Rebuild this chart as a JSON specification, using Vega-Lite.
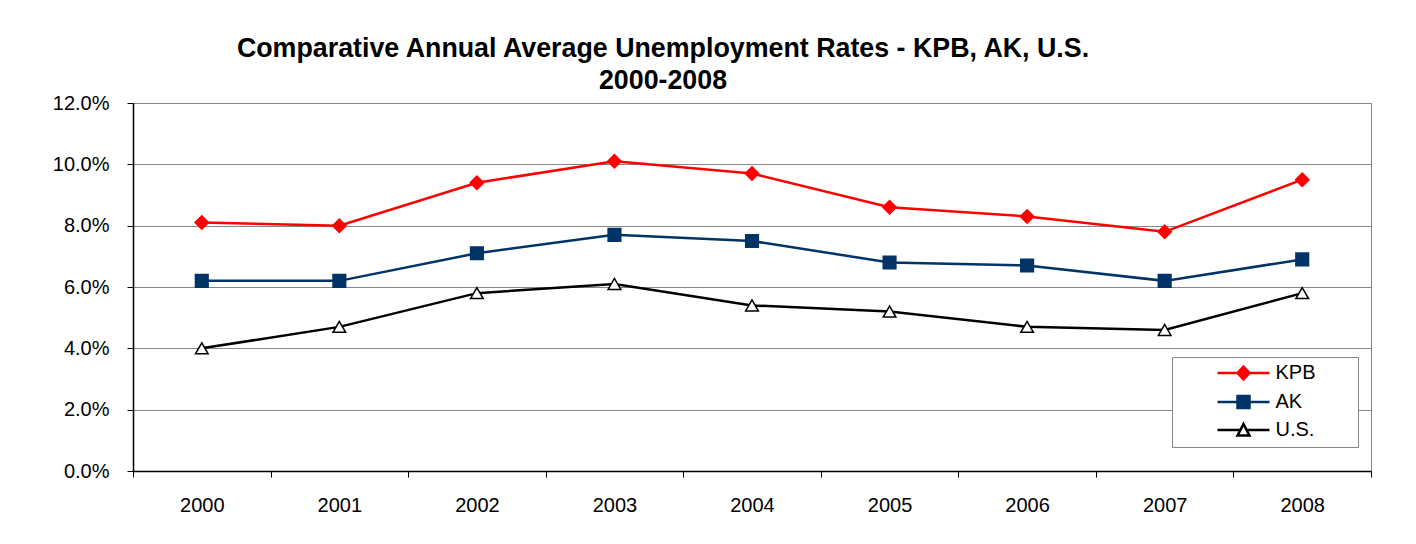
{
  "$schema": "https://vega.github.io/schema/vega-lite/v6.json",
  "width": 1238,
  "height": 368,
  "autosize": {"type": "none"},
  "padding": {"left": 133, "top": 103, "right": 45, "bottom": 73},
  "background": "white",
  "config": {
    "font": "Liberation Sans",
    "view": {"stroke": "#868686", "strokeWidth": 1}
  },
  "title": {
    "text": ["Comparative Annual Average Unemployment Rates - KPB, AK, U.S.", "2000-2008"],
    "font": "Liberation Sans",
    "fontSize": 26.8,
    "fontWeight": "bold",
    "color": "#000000",
    "anchor": "middle",
    "dx": -89,
    "lineHeight": 32.5,
    "offset": -2
  },
  "data": {
    "values": [
      {"year": "2000", "series": "KPB", "value": 0.081},
      {"year": "2001", "series": "KPB", "value": 0.080},
      {"year": "2002", "series": "KPB", "value": 0.094},
      {"year": "2003", "series": "KPB", "value": 0.101},
      {"year": "2004", "series": "KPB", "value": 0.097},
      {"year": "2005", "series": "KPB", "value": 0.086},
      {"year": "2006", "series": "KPB", "value": 0.083},
      {"year": "2007", "series": "KPB", "value": 0.078},
      {"year": "2008", "series": "KPB", "value": 0.095},
      {"year": "2000", "series": "AK", "value": 0.062},
      {"year": "2001", "series": "AK", "value": 0.062},
      {"year": "2002", "series": "AK", "value": 0.071},
      {"year": "2003", "series": "AK", "value": 0.077},
      {"year": "2004", "series": "AK", "value": 0.075},
      {"year": "2005", "series": "AK", "value": 0.068},
      {"year": "2006", "series": "AK", "value": 0.067},
      {"year": "2007", "series": "AK", "value": 0.062},
      {"year": "2008", "series": "AK", "value": 0.069},
      {"year": "2000", "series": "U.S.", "value": 0.040},
      {"year": "2001", "series": "U.S.", "value": 0.047},
      {"year": "2002", "series": "U.S.", "value": 0.058},
      {"year": "2003", "series": "U.S.", "value": 0.061},
      {"year": "2004", "series": "U.S.", "value": 0.054},
      {"year": "2005", "series": "U.S.", "value": 0.052},
      {"year": "2006", "series": "U.S.", "value": 0.047},
      {"year": "2007", "series": "U.S.", "value": 0.046},
      {"year": "2008", "series": "U.S.", "value": 0.058}
    ]
  },
  "encoding": {
    "x": {
      "field": "year",
      "type": "ordinal",
      "scale": {"type": "band", "paddingInner": 0, "paddingOuter": 0},
      "axis": {
        "title": null,
        "labelAngle": 0,
        "labelFontSize": 20,
        "labelColor": "#000000",
        "labelPadding": 18,
        "tickBand": "extent",
        "tickSize": 6,
        "tickColor": "#000000",
        "domainColor": "#000000",
        "domainWidth": 1.5,
        "grid": false
      }
    },
    "y": {
      "field": "value",
      "type": "quantitative",
      "scale": {"domain": [0, 0.12], "nice": false},
      "axis": {
        "title": null,
        "values": [0, 0.02, 0.04, 0.06, 0.08, 0.1, 0.12],
        "format": ".1%",
        "labelFontSize": 20,
        "labelColor": "#000000",
        "labelPadding": 18,
        "tickSize": 6,
        "tickColor": "#000000",
        "domainColor": "#000000",
        "domainWidth": 1.5,
        "grid": true,
        "gridColor": "#868686",
        "gridWidth": 1
      }
    },
    "stroke": {
      "field": "series",
      "type": "nominal",
      "scale": {"domain": ["KPB", "AK", "U.S."], "range": ["#ff0000", "#003366", "#000000"]}
    },
    "fill": {
      "field": "series",
      "type": "nominal",
      "scale": {"domain": ["KPB", "AK", "U.S."], "range": ["#ff0000", "#003366", "#ffffff"]}
    }
  },
  "layer": [
    {
      "mark": {"type": "line", "strokeWidth": 2.5, "fill": null},
      "encoding": {"fill": {"value": null}}
    },
    {
      "transform": [{"filter": "datum.series === 'KPB'"}],
      "mark": {"type": "point", "shape": "diamond", "filled": true, "size": 180, "strokeWidth": 1.5, "opacity": 1}
    },
    {
      "transform": [{"filter": "datum.series === 'AK'"}],
      "mark": {"type": "point", "shape": "square", "filled": true, "size": 160, "strokeWidth": 1.5, "opacity": 1}
    },
    {
      "transform": [{"filter": "datum.series === 'U.S.'"}],
      "mark": {"type": "point", "shape": "triangle-up", "filled": true, "size": 160, "strokeWidth": 1.5, "opacity": 1}
    },
    {
      "transform": [{"filter": "false"}],
      "mark": {"type": "point", "filled": true, "size": 256, "strokeWidth": 2.5, "opacity": 1},
      "encoding": {
        "shape": {
          "field": "series",
          "type": "nominal",
          "scale": {
            "domain": ["KPB", "AK", "U.S."],
            "range": [
              "M-3.25,0H3.25M0,-0.8L0.75,0L0,0.8L-0.75,0Z",
              "M-3.25,0H3.25M-0.75,-0.75H0.75V0.75H-0.75Z",
              "M-3.25,0H-0.39M0.39,0H3.25M0,-0.75L0.75,0.7L-0.75,0.7Z"
            ]
          },
          "legend": {
            "title": null,
            "orient": "none",
            "legendX": 1039,
            "legendY": 254,
            "fillColor": "#ffffff",
            "strokeColor": "#868686",
            "padding": 6,
            "rowPadding": 6,
            "symbolSize": 256,
            "symbolStrokeWidth": 2.5,
            "symbolOffset": 55.5,
            "labelOffset": 22,
            "labelFontSize": 20,
            "labelColor": "#000000",
            "labelExpr": "datum.label + '\u00a0\u2800\u2800'"
          }
        }
      }
    }
  ]
}
